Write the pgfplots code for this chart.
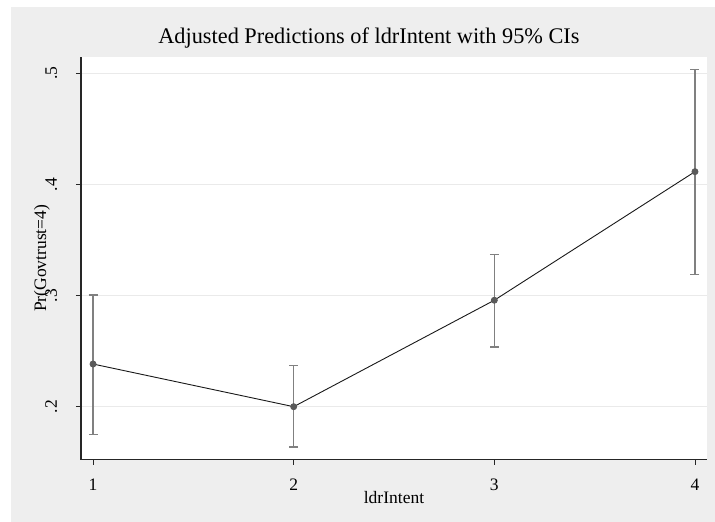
\documentclass[border=0pt]{standalone}
\usepackage{fontspec}
\setmainfont{Liberation Serif}
\usepackage{pgfplots}
\pgfplotsset{compat=1.18}
\definecolor{bg}{RGB}{238,238,238}
\definecolor{gridc}{RGB}{234,234,234}
\definecolor{cic}{RGB}{128,128,128}
\definecolor{mkc}{RGB}{90,90,90}
\definecolor{axc}{RGB}{38,38,38}
\begin{document}
\begin{tikzpicture}[x=1pt,y=1pt]
\fill[white] (0,0) rectangle (715,522);
\fill[bg] (11,0) rectangle (715,515);
\begin{axis}[
  at={(81pt,62.3pt)}, anchor=south west,
  scale only axis, width=626pt, height=402.7pt,
  xmin=0.94, xmax=4.06, ymin=0.1523, ymax=0.5147,
  axis x line*=bottom, axis y line*=left,
  axis line style={-, line width=1.1pt, color=axc},
  axis background/.style={fill=white},
  tick align=outside, major tick length=5pt,
  every tick/.style={axc, line width=0.9pt},
  xtick={1,2,3,4}, ytick={0.2,0.3,0.4,0.5},
  yticklabels={.2,.3,.4,.5},
  /pgf/number format/assume math mode=true,
  ticklabel style={font=\fontsize{17.5}{20}\selectfont},
  yticklabel style={xshift=-19pt, rotate=90, anchor=base, inner sep=0pt},
  xticklabel style={yshift=-25.3pt, anchor=base, inner sep=0pt},
  ymajorgrids, grid style={gridc, line width=0.9pt},
  title={Adjusted Predictions of ldrIntent with 95\% CIs},
  title style={font=\fontsize{22.3}{25}\selectfont, at={(axis description cs:0.460,1.0191)}, anchor=base, inner sep=0pt},
  xlabel={ldrIntent},
  xlabel style={font=\fontsize{17.5}{20}\selectfont, at={(axis description cs:0.5,-0.110)}, anchor=base, inner sep=0pt},
  ylabel={Pr(Govtrust=4)},
  ylabel style={font=\fontsize{17.5}{20}\selectfont, at={(axis description cs:-0.0625,0.5)}, anchor=center, inner sep=0pt},
  clip=false,
]
% confidence intervals
\addplot[draw=none, mark=none,
  error bars/.cd, y dir=both, y explicit,
  error bar style={cic, line width=1.3pt},
  error mark options={cic, rotate=90, mark size=4.5pt, line width=1.3pt}]
  table[x=x, y=y, y error plus=ep, y error minus=em] {
  x y ep em
  1 0.2384 0.0621 0.0634
  2 0.2000 0.0369 0.0363
  3 0.2958 0.0410 0.0421
  4 0.4115 0.0918 0.0927
};
% point estimates
\addplot[color=black!90, line width=0.9pt, mark=*, mark size=3pt,
  mark options={fill=mkc, draw=mkc}]
  table[x=x, y=y] {
  x y
  1 0.2384
  2 0.2000
  3 0.2958
  4 0.4115
};
\end{axis}
\end{tikzpicture}
\end{document}
